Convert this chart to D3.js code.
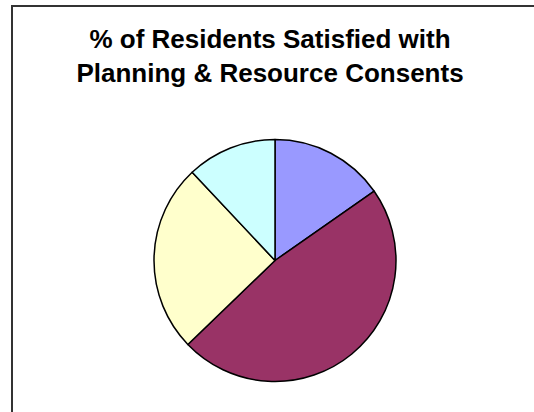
<!DOCTYPE html>
<html>
<head>
<meta charset="utf-8">
<script src="https://cdn.jsdelivr.net/npm/d3@7"></script>
<style>
  html, body { margin: 0; padding: 0; background: #fff; }
  svg { display: block; }
</style>
</head>
<body>
<svg id="chart" width="534" height="412"></svg>
<script>
// Satisfaction categories and their share of residents (%)
const categories = ["Very satisfied", "Satisfied", "Neither", "Dissatisfied"];
const values = [15.3, 47.5, 25.2, 12.0];
const colors = ["#9999FF", "#993366", "#FFFFCC", "#CCFFFF"];
const titleLines = ["% of Residents Satisfied with", "Planning & Resource Consents"];

const width = 534, height = 412;
const svg = d3.select("#chart");

// Chart area frame (runs off the right and bottom edges)
svg.append("path")
  .attr("d", "M12,420 L12,6 L540,6")
  .attr("fill", "none")
  .attr("stroke", "#333")
  .attr("stroke-width", 2);

// Title
const title = svg.append("text")
  .attr("text-anchor", "middle")
  .attr("font-family", "'Liberation Sans', Arial, sans-serif")
  .attr("font-weight", "bold")
  .attr("font-size", 26)
  .attr("fill", "#000");
titleLines.forEach((line, i) => {
  title.append("tspan")
    .attr("x", 270)
    .attr("y", 48 + i * 33.5)
    .text(line);
});

// Pie
const cx = 275, cy = 260.5, r = 121;
const pie = d3.pie().sort(null).value(d => d.value);
const arc = d3.arc().innerRadius(0).outerRadius(r);
const data = categories.map((c, i) => ({ category: c, value: values[i] }));
const color = d3.scaleOrdinal().domain(categories).range(colors);

svg.append("g")
  .attr("transform", `translate(${cx},${cy})`)
  .selectAll("path")
  .data(pie(data))
  .join("path")
  .attr("d", arc)
  .attr("fill", d => color(d.data.category))
  .attr("stroke", "#000")
  .attr("stroke-width", 1.5)
  .attr("stroke-linejoin", "round");
</script>
</body>
</html>
